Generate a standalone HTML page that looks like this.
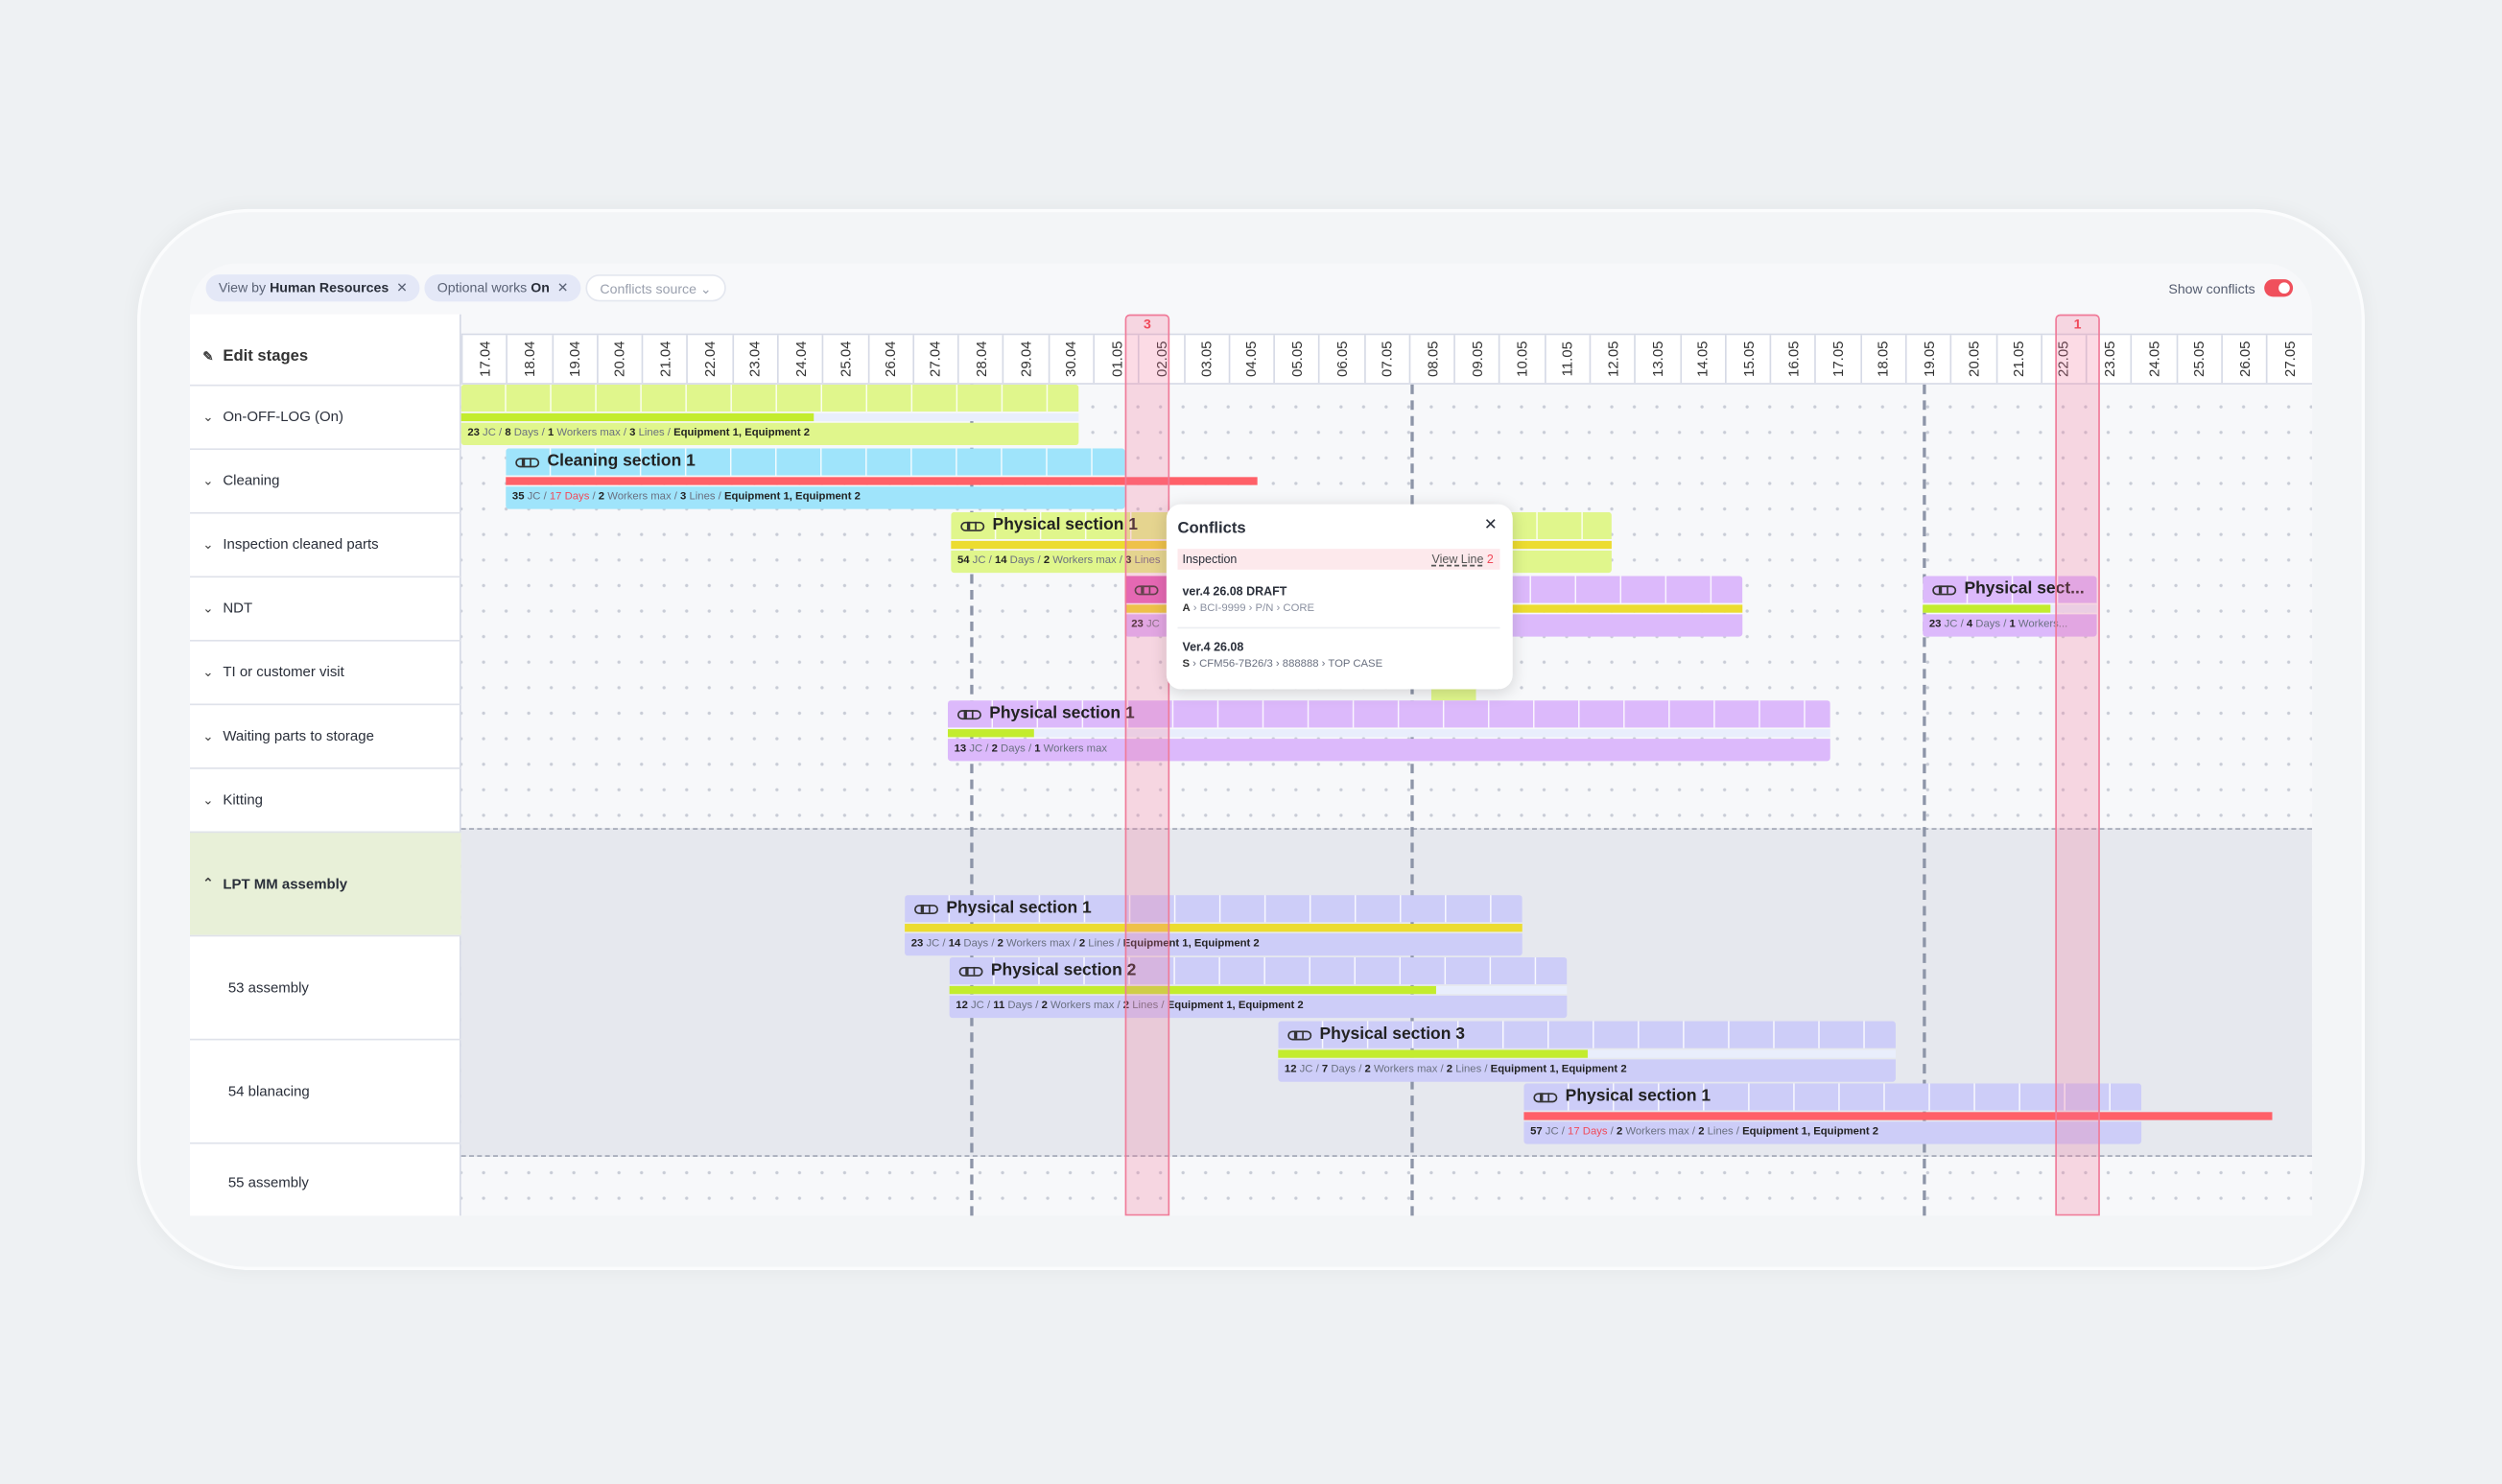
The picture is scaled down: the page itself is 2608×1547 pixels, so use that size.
<!DOCTYPE html>
<html><head><meta charset="utf-8">
<style>
*{box-sizing:border-box;margin:0;padding:0}
html,body{width:2608px;height:1546px;overflow:hidden;background:#eef1f3}
#s{position:absolute;left:0;top:0;width:1568px;height:930px;transform:scale(1.66327);transform-origin:0 0;font-family:"Liberation Sans",sans-serif;color:#2a2f3a}
.a{position:absolute}
.phone{left:86px;top:131px;width:1396px;height:665px;border-radius:70px;background:#f3f5f7;border:2px solid #fbfcfd;box-shadow:0 0 12px rgba(0,0,0,.05)}
.scr{left:119px;top:165px;width:1330px;height:597px;background:#f7f8fa;border-radius:30px 30px 0 0;overflow:hidden}
.chip{top:7px;height:17px;border-radius:9px;background:#e4e8f7;font-size:8.5px;line-height:17px;padding:0 8px;color:#5a6275;white-space:nowrap}
.chip b{color:#2a2f3a}
.dates{left:170px;top:44px;height:32px;width:1160px;background:#fff;border-top:1px solid #d6dae6;border-bottom:1px solid #d6dae6;display:flex}
.dates div{width:28.29px;border-left:1px solid #d6dae6;position:relative}
.dates span{position:absolute;left:50%;top:50%;transform:translate(-50%,-50%) rotate(-90deg);font-size:9px;color:#333;white-space:nowrap}
.left{left:0;top:32px;width:170px;height:565px;background:#fff;border-right:1px solid #d6dae6}
.lr{position:absolute;left:0;width:170px;border-top:1px solid #dfe2ea;font-size:9px;line-height:1;display:flex;align-items:center;padding-left:8px}
.lr i{font-style:normal;font-size:8px;margin-right:6px;color:#444}
.chart{left:170px;top:76px;width:1160px;height:521px;background-image:radial-gradient(circle,#c8ccd6 0.8px,transparent 1.2px);background-size:14.145px 16px;background-position:7px 6px}
.bar{position:absolute}
.top{position:absolute;left:0;right:0;top:0;height:17px;background-image:linear-gradient(to right,transparent 27.3px,rgba(255,255,255,.85) 27.3px);background-size:28.29px 100%;border-radius:2px 2px 0 0;font-size:10.5px;font-weight:bold;line-height:17px;padding-left:26px;white-space:nowrap;color:#222}
.ico{position:absolute;left:6px;top:6px;width:15px;height:6px;border:1.6px solid #333;border-radius:3px}
.ico:before,.ico:after{content:"";position:absolute;top:-1px;width:1.5px;height:5px;background:#333}
.ico:before{left:3px}.ico:after{left:7.5px}
.prog{position:absolute;left:0;top:18px;height:5px;background:#e9eefc}
.prog div{height:100%}
.info{position:absolute;left:0;right:0;top:24px;height:14px;font-size:6.8px;line-height:14px;padding-left:4px;white-space:nowrap;color:#6a7080;border-radius:0 0 2px 2px}
.info b{color:#222}.info .r{color:#f04a5a}
.conf{position:absolute;width:28px;background:rgba(245,110,150,.25);border:1px solid #f07a98}
.vd{position:absolute;top:0;height:521px;border-left:2px dashed #8d95a8;width:0}
</style></head><body><div id="s">
<div class="a phone"></div>
<div class="a scr">
  <div class="a chip" style="left:10px">View by <b>Human Resources</b> &nbsp;✕</div>
  <div class="a chip" style="left:147px">Optional works <b>On</b> &nbsp;✕</div>
  <div class="a chip" style="left:248px;background:#fff;border:1px solid #e4e7ef;color:#9aa0ae">Conflicts source ⌄</div>
  <div class="a" style="left:1240px;top:11px;font-size:8.5px;color:#555d70">Show conflicts</div>
  <div class="a" style="left:1300px;top:10px;width:18px;height:11px;border-radius:6px;background:#f0505c"><div style="position:absolute;right:2px;top:2px;width:7px;height:7px;border-radius:50%;background:#fff"></div></div>

  <div class="a left">
    <div class="lr" style="top:0;height:44px;border-top:none;font-size:10px;color:#333;font-weight:bold;padding-top:10px"><i>✎</i>Edit stages</div>
    <div class="lr" style="top:44px;height:40px"><i>⌄</i>On-OFF-LOG (On)</div>
    <div class="lr" style="top:84px;height:40px"><i>⌄</i>Cleaning</div>
    <div class="lr" style="top:124px;height:40px"><i>⌄</i>Inspection cleaned parts</div>
    <div class="lr" style="top:164px;height:40px"><i>⌄</i>NDT</div>
    <div class="lr" style="top:204px;height:40px"><i>⌄</i>TI or customer visit</div>
    <div class="lr" style="top:244px;height:40px"><i>⌄</i>Waiting parts to storage</div>
    <div class="lr" style="top:284px;height:40px"><i>⌄</i>Kitting</div>
    <div class="lr" style="top:324px;height:65px;background:#e8f0d8;font-weight:bold"><i>⌃</i>LPT MM assembly</div>
    <div class="lr" style="top:389px;height:65px;padding-left:24px">53 assembly</div>
    <div class="lr" style="top:454px;height:65px;padding-left:24px">54 blanacing</div>
    <div class="lr" style="top:519px;height:50px;padding-left:24px">55 assembly</div>
  </div>

  <div class="a dates">
    <div><span>17.04</span></div><div><span>18.04</span></div><div><span>19.04</span></div><div><span>20.04</span></div><div><span>21.04</span></div><div><span>22.04</span></div><div><span>23.04</span></div><div><span>24.04</span></div><div><span>25.04</span></div><div><span>26.04</span></div><div><span>27.04</span></div><div><span>28.04</span></div><div><span>29.04</span></div><div><span>30.04</span></div><div><span>01.05</span></div><div><span>02.05</span></div><div><span>03.05</span></div><div><span>04.05</span></div><div><span>05.05</span></div><div><span>06.05</span></div><div><span>07.05</span></div><div><span>08.05</span></div><div><span>09.05</span></div><div><span>10.05</span></div><div><span>11.05</span></div><div><span>12.05</span></div><div><span>13.05</span></div><div><span>14.05</span></div><div><span>15.05</span></div><div><span>16.05</span></div><div><span>17.05</span></div><div><span>18.05</span></div><div><span>19.05</span></div><div><span>20.05</span></div><div><span>21.05</span></div><div><span>22.05</span></div><div><span>23.05</span></div><div><span>24.05</span></div><div><span>25.05</span></div><div><span>26.05</span></div><div><span>27.05</span></div>
  </div>

  <div class="a chart">
    <div class="a" style="left:0;top:278px;width:1160px;height:206px;background:#e6e8ee;border-top:1px dashed #a0a6b4;border-bottom:1px dashed #a0a6b4"></div>
    <div class="vd" style="left:319px"></div>
    <div class="vd" style="left:595px"></div>
    <div class="vd" style="left:916px"></div>

    <div class="bar" style="left:0;top:0;width:387px;height:38px">
      <div class="top" style="background-color:#e0f68c;padding-left:0"></div>
      <div class="prog" style="width:387px"><div style="width:221px;background:#c3ec2e"></div></div>
      <div class="info" style="background:#e0f68c"><b>23</b> JC / <b>8</b> Days / <b>1</b> Workers max / <b>3</b> Lines / <b>Equipment 1, Equipment 2</b></div>
    </div>
    <div class="bar" style="left:28px;top:40px;width:388px;height:38px">
      <div class="top" style="background-color:#9fe4fb"><div class="ico"></div>Cleaning section 1</div>
      <div class="prog" style="width:471px;background:#ff6068"></div>
      <div class="info" style="background:#9fe4fb"><b>35</b> JC / <span class="r">17 Days</span> / <b>2</b> Workers max / <b>3</b> Lines / <b>Equipment 1, Equipment 2</b></div>
    </div>
    <div class="bar" style="left:307px;top:80px;width:414px;height:38px">
      <div class="top" style="background-color:#e0f68c"><div class="ico"></div>Physical section 1</div>
      <div class="prog" style="width:414px;background:#ecdc30"></div>
      <div class="info" style="background:#e0f68c"><b>54</b> JC / <b>14</b> Days / <b>2</b> Workers max / <b>3</b> Lines</div>
    </div>
    <div class="bar" style="left:416px;top:120px;width:387px;height:38px">
      <div class="top" style="background-color:#dcb9fb"><div style="position:absolute;left:0;top:0;width:28px;height:17px;background:#e066bc"></div><div class="ico"></div></div>
      <div class="prog" style="width:387px;background:#ecdc30"></div>
      <div class="info" style="background:#dcb9fb"><b>23</b> JC</div>
    </div>
    <div class="bar" style="left:916px;top:120px;width:109px;height:38px">
      <div class="top" style="background-color:#dcb9fb"><div class="ico"></div>Physical sect...</div>
      <div class="prog" style="width:109px"><div style="width:80px;background:#c3ec2e"></div></div>
      <div class="info" style="background:#dcb9fb"><b>23</b> JC / <b>4</b> Days / <b>1</b> Workers...</div>
    </div>
    <div class="a" style="left:608px;top:190px;width:28px;height:8px;background:#e0f68c"></div>
    <div class="bar" style="left:305px;top:198px;width:553px;height:38px">
      <div class="top" style="background-color:#dcb9fb"><div class="ico"></div>Physical section 1</div>
      <div class="prog" style="width:553px"><div style="width:54px;background:#c3ec2e"></div></div>
      <div class="info" style="background:#dcb9fb"><b>13</b> JC / <b>2</b> Days / <b>1</b> Workers max</div>
    </div>
    <div class="bar" style="left:278px;top:320px;width:387px;height:38px">
      <div class="top" style="background-color:#cdcdf8"><div class="ico"></div>Physical section 1</div>
      <div class="prog" style="width:387px;background:#ecdc30"></div>
      <div class="info" style="background:#cdcdf8"><b>23</b> JC / <b>14</b> Days / <b>2</b> Workers max / <b>2</b> Lines / <b>Equipment 1, Equipment 2</b></div>
    </div>
    <div class="bar" style="left:306px;top:359px;width:387px;height:38px">
      <div class="top" style="background-color:#cdcdf8"><div class="ico"></div>Physical section 2</div>
      <div class="prog" style="width:387px"><div style="width:305px;background:#c3ec2e"></div></div>
      <div class="info" style="background:#cdcdf8"><b>12</b> JC / <b>11</b> Days / <b>2</b> Workers max / <b>2</b> Lines / <b>Equipment 1, Equipment 2</b></div>
    </div>
    <div class="bar" style="left:512px;top:399px;width:387px;height:38px">
      <div class="top" style="background-color:#cdcdf8"><div class="ico"></div>Physical section 3</div>
      <div class="prog" style="width:387px"><div style="width:194px;background:#c3ec2e"></div></div>
      <div class="info" style="background:#cdcdf8"><b>12</b> JC / <b>7</b> Days / <b>2</b> Workers max / <b>2</b> Lines / <b>Equipment 1, Equipment 2</b></div>
    </div>
    <div class="bar" style="left:666px;top:438px;width:387px;height:38px">
      <div class="top" style="background-color:#cdcdf8"><div class="ico"></div>Physical section 1</div>
      <div class="prog" style="width:469px;background:#ff6068"></div>
      <div class="info" style="background:#cdcdf8"><b>57</b> JC / <span class="r">17 Days</span> / <b>2</b> Workers max / <b>2</b> Lines / <b>Equipment 1, Equipment 2</b></div>
    </div>
  </div>

  <div class="conf" style="left:586px;top:32px;height:565px;border-radius:3px 3px 0 0"></div>
  <div class="a" style="left:586px;top:33px;width:28px;text-align:center;font-size:8.5px;color:#f04a5a;font-weight:bold">3</div>
  <div class="conf" style="left:1169px;top:32px;height:565px;border-radius:3px 3px 0 0"></div>
  <div class="a" style="left:1169px;top:33px;width:28px;text-align:center;font-size:8.5px;color:#f04a5a;font-weight:bold">1</div>

  <div class="a" style="left:612px;top:151px;width:217px;height:116px;background:#fff;border-radius:9px;box-shadow:0 2px 10px rgba(0,0,0,.15)">
    <div class="a" style="left:7px;top:10px;font-size:10px;font-weight:bold">Conflicts</div>
    <div class="a" style="left:199px;top:8px;font-size:10px">✕</div>
    <div class="a" style="left:7px;top:28px;width:202px;height:13px;background:#fde9ec;font-size:7.5px;line-height:13px;padding-left:3px">Inspection<span style="position:absolute;right:4px;color:#555"><u style="text-decoration-style:dashed">View Line</u> <span style="color:#f04a5a">2</span></span></div>
    <div class="a" style="left:10px;top:50px;font-size:7.5px;font-weight:bold">ver.4 26.08 DRAFT</div>
    <div class="a" style="left:10px;top:62px;font-size:6.8px;color:#8a90a0"><b style="color:#333">A</b> › BCI-9999 › P/N › CORE</div>
    <div class="a" style="left:7px;top:77px;width:202px;height:1px;background:#eceef2"></div>
    <div class="a" style="left:10px;top:85px;font-size:7.5px;font-weight:bold">Ver.4 26.08</div>
    <div class="a" style="left:10px;top:97px;font-size:6.8px;color:#6a7080"><b style="color:#333">S</b> › CFM56-7B26/3 › 888888 › TOP CASE</div>
  </div>
</div>
</div></body></html>
